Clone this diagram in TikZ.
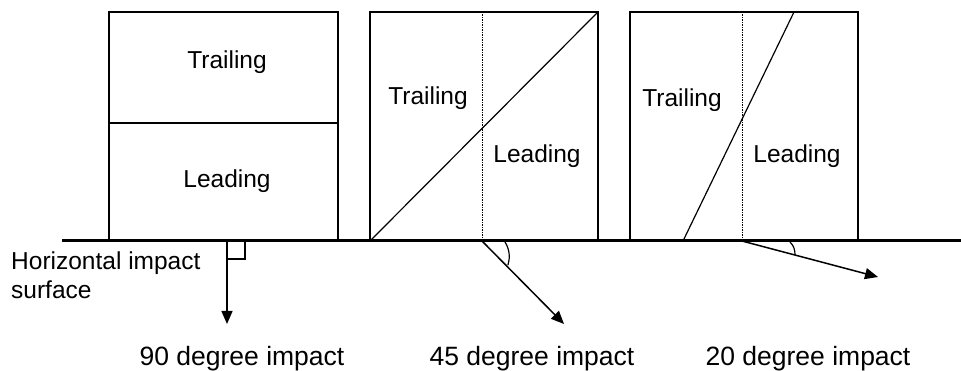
\documentclass[tikz,border=0pt]{standalone}
\usepackage{fontspec}
\setmainfont{Liberation Sans}
\usetikzlibrary{arrows.meta}
\begin{document}
\begin{tikzpicture}[x=1pt,y=-1pt,
  boxline/.style={line width=1.5pt},
  ground/.style={line width=3pt},
  guide/.style={line width=0.6pt,dash pattern=on 1.5pt off 1pt},
  impact/.style={line width=1.5pt,-{Triangle[length=13pt,width=11pt]}},
  anglemark/.style={line width=1.2pt},
  lbl/.style={font=\fontsize{24.5}{28}\selectfont,inner sep=0pt},
  captext/.style={font=\fontsize{26.5}{30}\selectfont,inner sep=0pt,anchor=base}]
\useasboundingbox (0,0) rectangle (961,371);
% ground
\coordinate (gL) at (62,241);
\coordinate (gR) at (961,241);
\draw[ground] (gL) -- (gR);
% box 1
\draw[boxline] (109,241) rectangle (338,12);
\draw[boxline] (109,123) -- (338,123);
\node[lbl] (t1) at (227,62) {Trailing};
\node[lbl] (l1) at (227,181) {Leading};
% box 2
\draw[boxline] (370,241) rectangle (598,12);
\coordinate (d2a) at (370,241);
\coordinate (d2b) at (598,12);
\draw[line width=1.2pt] (d2a) -- (d2b);
\coordinate (v2t) at (482,12);
\coordinate (o2) at (482,241);
\draw[guide] (v2t) -- (o2);
\node[lbl] (t2) at (428,98) {Trailing};
\node[lbl] (l2) at (537,156) {Leading};
% box 3
\draw[boxline] (630,241) rectangle (858,12);
\coordinate (d3a) at (683,241);
\coordinate (d3b) at (794,12);
\draw[line width=1.2pt] (d3a) -- (d3b);
\coordinate (v3t) at (742,12);
\coordinate (o3) at (742,241);
\draw[guide] (v3t) -- (o3);
\node[lbl] (t3) at (682,100) {Trailing};
\node[lbl] (l3) at (797,156) {Leading};
% arrows
\coordinate (o1) at (227,241);
\coordinate (e1) at (227,324);
\draw[impact] (o1) -- (e1);
\draw[anglemark] (227,259) -- (245,259) -- (245,241);
\coordinate (e2) at (564,324);
\draw[impact] (o2) -- (e2);
\draw[anglemark] (505,242) .. controls (510,250) and (510,258) .. (508,265);
\coordinate (e3) at (878,277);
\draw[impact] (o3) -- (e3);
\draw[anglemark] (790,242) .. controls (794,246) and (795,250) .. (795,255);
% labels
\node[lbl,anchor=base west] (h1) at (11,270) {Horizontal impact};
\node[lbl,anchor=base west] (h2) at (11,299) {surface};
\node[captext] (c1) at (242,365) {90 degree impact};
\node[captext] (c2) at (532,365) {45 degree impact};
\node[captext] (c3) at (808,365) {20 degree impact};
\end{tikzpicture}
\end{document}
